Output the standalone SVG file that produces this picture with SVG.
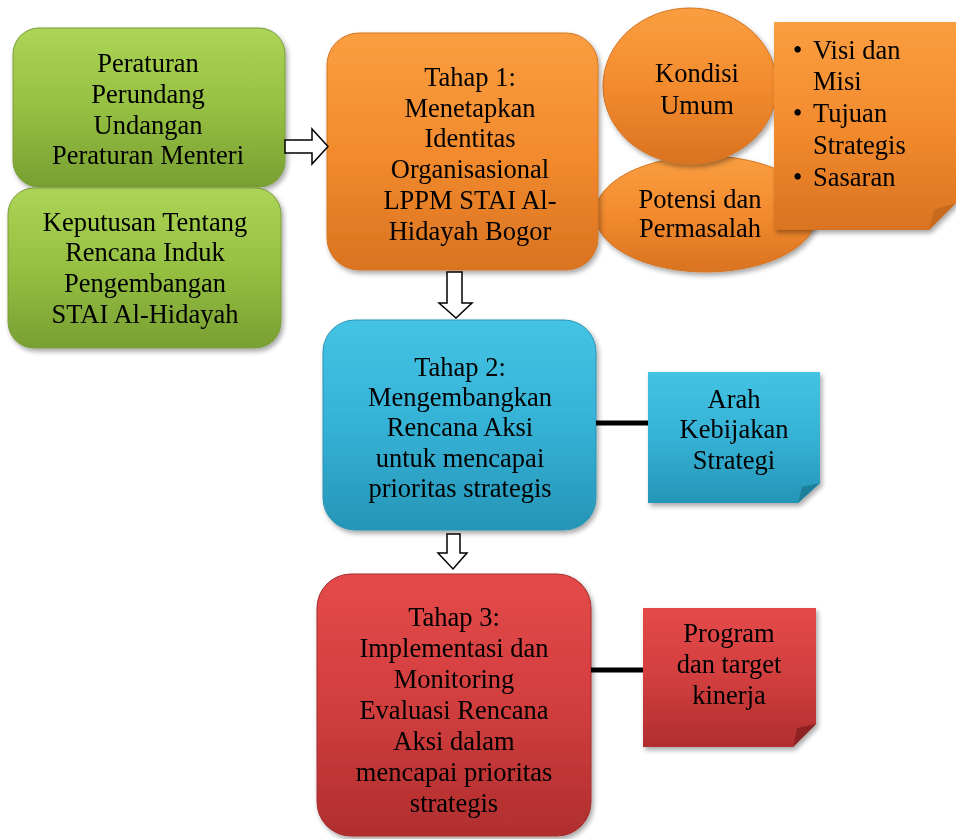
<svg xmlns="http://www.w3.org/2000/svg" width="956" height="839" viewBox="0 0 956 839">
<defs>
  <linearGradient id="gGreen" x1="0" y1="0" x2="0" y2="1">
    <stop offset="0" stop-color="#acd456"/>
    <stop offset="0.5" stop-color="#96c042"/>
    <stop offset="1" stop-color="#789f32"/>
  </linearGradient>
  <linearGradient id="gOrange" x1="0" y1="0" x2="0" y2="1">
    <stop offset="0" stop-color="#fa9e40"/>
    <stop offset="0.5" stop-color="#f38b2e"/>
    <stop offset="1" stop-color="#d97320"/>
  </linearGradient>
  <linearGradient id="gBlue" x1="0" y1="0" x2="0" y2="1">
    <stop offset="0" stop-color="#44c3e4"/>
    <stop offset="0.5" stop-color="#35b2d6"/>
    <stop offset="1" stop-color="#2695b7"/>
  </linearGradient>
  <linearGradient id="gRed" x1="0" y1="0" x2="0" y2="1">
    <stop offset="0" stop-color="#e54a4a"/>
    <stop offset="0.5" stop-color="#d23e3e"/>
    <stop offset="1" stop-color="#b02e2e"/>
  </linearGradient>
  <filter id="shadow" x="-10%" y="-10%" width="125%" height="125%">
    <feDropShadow dx="2" dy="3" stdDeviation="2.5" flood-color="#000" flood-opacity="0.35"/>
  </filter>
  <style>
    .t { font-family: "Liberation Serif", "Times New Roman", serif; font-size: 26.5px; fill: #000; text-anchor: middle; }
    .tl { font-family: "Liberation Serif", "Times New Roman", serif; font-size: 26.5px; fill: #000; }
    .box { filter: url(#shadow); }
    .arrow { fill: #fff; stroke: #000; stroke-width: 1.5; stroke-linejoin: miter; }
    .line { stroke: #000; stroke-width: 5; }
  </style>
</defs>

<g id="green1" class="box">
  <rect x="13" y="28" width="272" height="159" rx="26" fill="url(#gGreen)" stroke="#7a9c3a" stroke-width="1"/>
  <text class="t" x="148" y="72">Peraturan</text>
  <text class="t" x="148" y="103">Perundang</text>
  <text class="t" x="148" y="134">Undangan</text>
  <text class="t" x="148" y="164">Peraturan Menteri</text>
</g>

<g id="green2" class="box">
  <rect x="8" y="188" width="273" height="160" rx="26" fill="url(#gGreen)" stroke="#7a9c3a" stroke-width="1"/>
  <text class="t" x="145" y="231">Keputusan Tentang</text>
  <text class="t" x="145" y="261">Rencana Induk</text>
  <text class="t" x="145" y="292">Pengembangan</text>
  <text class="t" x="145" y="323">STAI Al-Hidayah</text>
</g>

<g id="potensi" class="box">
  <ellipse cx="706" cy="214" rx="111" ry="58" fill="url(#gOrange)" stroke="#d47421" stroke-width="1"/>
  <text class="t" x="700" y="208">Potensi dan</text>
  <text class="t" x="700" y="237">Permasalah</text>
</g>

<g id="kondisi" class="box">
  <ellipse cx="690" cy="86" rx="87" ry="78" fill="url(#gOrange)" stroke="#d47421" stroke-width="1"/>
  <text class="t" x="697" y="82">Kondisi</text>
  <text class="t" x="697" y="114">Umum</text>
</g>

<g id="tahap1" class="box">
  <rect x="327" y="33" width="271" height="237" rx="32" fill="url(#gOrange)" stroke="#d47421" stroke-width="1"/>
  <text class="t" x="470" y="86">Tahap 1:</text>
  <text class="t" x="470" y="117">Menetapkan</text>
  <text class="t" x="470" y="147">Identitas</text>
  <text class="t" x="470" y="178">Organisasional</text>
  <text class="t" x="470" y="209">LPPM STAI Al-</text>
  <text class="t" x="470" y="240">Hidayah Bogor</text>
</g>

<g id="note1" class="box">
  <path d="M774,22 H956 V203 L929,230 H774 Z" fill="url(#gOrange)"/>
  <path d="M929,230 L934,210 L956,203 Z" fill="#c66a1e"/>
  <text class="tl" x="793" y="59">•</text>
  <text class="tl" x="813" y="59">Visi dan</text>
  <text class="tl" x="813" y="90">Misi</text>
  <text class="tl" x="793" y="122">•</text>
  <text class="tl" x="813" y="122">Tujuan</text>
  <text class="tl" x="813" y="154">Strategis</text>
  <text class="tl" x="793" y="186">•</text>
  <text class="tl" x="813" y="186">Sasaran</text>
</g>

<g id="tahap2" class="box">
  <rect x="323" y="320" width="273" height="210" rx="32" fill="url(#gBlue)" stroke="#2a94b3" stroke-width="1"/>
  <text class="t" x="460" y="376">Tahap 2:</text>
  <text class="t" x="460" y="406">Mengembangkan</text>
  <text class="t" x="460" y="436">Rencana Aksi</text>
  <text class="t" x="460" y="467">untuk mencapai</text>
  <text class="t" x="460" y="497">prioritas strategis</text>
</g>

<g id="note2" class="box">
  <path d="M648,372 H820 V483 L798,503 H648 Z" fill="url(#gBlue)"/>
  <path d="M798,503 L802,487 L820,483 Z" fill="#1f7f9c"/>
  <text class="t" x="734" y="408">Arah</text>
  <text class="t" x="734" y="438">Kebijakan</text>
  <text class="t" x="734" y="469">Strategi</text>
</g>

<g id="tahap3" class="box">
  <rect x="317" y="574" width="274" height="262" rx="34" fill="url(#gRed)" stroke="#a52c2c" stroke-width="1"/>
  <text class="t" x="454" y="626">Tahap 3:</text>
  <text class="t" x="454" y="657">Implementasi dan</text>
  <text class="t" x="454" y="688">Monitoring</text>
  <text class="t" x="454" y="719">Evaluasi Rencana</text>
  <text class="t" x="454" y="750">Aksi dalam</text>
  <text class="t" x="454" y="781">mencapai prioritas</text>
  <text class="t" x="454" y="812">strategis</text>
</g>

<g id="note3" class="box">
  <path d="M643,608 H816 V724 L793,747 H643 Z" fill="url(#gRed)"/>
  <path d="M793,747 L797,728 L816,724 Z" fill="#8e2424"/>
  <text class="t" x="729" y="642">Program</text>
  <text class="t" x="729" y="673">dan target</text>
  <text class="t" x="729" y="704">kinerja</text>
</g>

<g id="connectors">
  <polygon class="arrow" points="285,140 312,140 312,129 328,146.5 312,164 312,153 285,153"/>
  <polygon class="arrow" points="447,272 462,272 462,303 472,303 456,318 439,303 447,303"/>
  <polygon class="arrow" points="447,534 460,534 460,553 467,553 453,569 438,553 447,553"/>
  <line class="line" x1="596" y1="423" x2="648" y2="423"/>
  <line class="line" x1="591" y1="670" x2="643" y2="670"/>
</g>
</svg>
